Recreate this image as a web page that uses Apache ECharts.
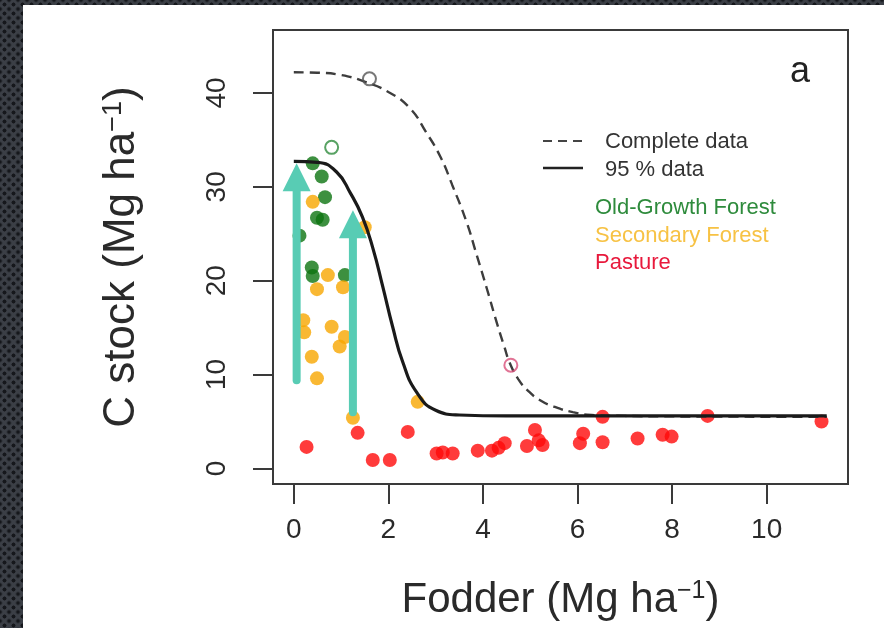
<!DOCTYPE html>
<html>
<head>
<meta charset="utf-8">
<script src="https://cdn.jsdelivr.net/npm/echarts@6/dist/echarts.min.js"></script>
<style>
  html, body { margin: 0; padding: 0; width: 884px; height: 628px; overflow: hidden; }
  body {
    background-color: #3b3f46;
    background-image:
      radial-gradient(circle, #15171b 1.7px, transparent 2.3px),
      radial-gradient(circle, #15171b 1.7px, transparent 2.3px);
    background-size: 9px 9px, 9px 9px;
    background-position: 0 0, 4.5px 4.5px;
  }
  #panel { position: absolute; left: 23px; top: 5px; width: 861px; height: 623px; background: #fff; }
  #chart { position: absolute; left: 0; top: 0; width: 884px; height: 628px; }
</style>
</head>
<body>
<div id="panel"></div>
<div id="chart"></div>
<script>
// ---- data ----
const xTicks = [0, 2, 4, 6, 8, 10];
const yTicks = [0, 10, 20, 30, 40];

const oldGrowth = [[0.40,32.5],[0.59,31.1],[0.66,28.9],[0.49,26.7],[0.61,26.5],[0.12,24.8],[0.38,21.4],[0.40,20.5],[1.08,20.6]];
const secondary = [[0.40,28.4],[1.50,25.7],[0.72,20.6],[0.49,19.1],[1.04,19.3],[0.20,15.8],[0.22,14.5],[0.80,15.1],[1.08,14.0],[0.97,13.0],[0.38,11.9],[0.49,9.6],[1.25,5.4],[2.62,7.1]];
const pasture = [[0.27,2.3],[1.35,3.8],[1.67,0.9],[2.03,0.9],[2.41,3.9],[3.02,1.6],[3.15,1.7],[3.36,1.6],[3.89,1.9],[4.19,1.9],[4.33,2.2],[4.46,2.7],[4.93,2.4],[5.10,4.1],[5.26,2.5],[5.18,3.0],[6.05,2.7],[6.12,3.7],[6.53,5.5],[6.53,2.8],[7.27,3.2],[7.80,3.6],[7.99,3.4],[8.75,5.6],[11.16,5.0]];
const outlierOld = [[0.80,34.2]];
const outlierSec = [[1.60,41.5]];
const outlierPas = [[4.59,11.0]];

const completeFit = [[0,42.2],[0.5,42.15],[1.0,41.9],[1.5,41.2],[2.0,40.1],[2.45,38.4],[2.8,35.8],[3.1,33.2],[3.35,30.2],[3.65,26.3],[3.87,22.7],[4.08,19.2],[4.3,15.4],[4.45,13.0],[4.57,11.2],[4.75,9.5],[4.95,8.3],[5.2,7.3],[5.5,6.6],[5.9,6.0],[6.3,5.7],[7.0,5.6],[8.0,5.55],[11.27,5.5]];
const fit95 = [[0,32.7],[0.5,32.6],[0.9,31.6],[1.2,29.3],[1.45,26.8],[1.67,23.5],[1.88,19.4],[2.09,15.1],[2.3,11.4],[2.6,8.1],[3.0,6.2],[3.5,5.7],[4.5,5.6],[11.27,5.6]];

// annotation arrows: [x, yStart, yTip]
const arrows = [[0.06, 9.4, 32.5], [1.25, 6.0, 27.5]];

const legendLines = ['Complete data', '95 % data'];
const legendGroups = ['Old-Growth Forest', 'Secondary Forest', 'Pasture'];

// ---- chart ----
const FONT = '"Liberation Sans", Arial, sans-serif';
const chart = echarts.init(document.getElementById('chart'), null, { renderer: 'canvas' });

const groupColors = ['#0c7410', '#f7a600', '#ff0a0a'];
const legendTextColors = ['#2e8b3c', '#f7c244', '#e8193c'];
const teal = '#58ccb4';

const option = {
  animation: false,
  backgroundColor: 'transparent',
  grid: { left: 273, top: 30, width: 575, height: 454, show: true, borderColor: '#3a3a3a', borderWidth: 2, backgroundColor: 'transparent' },
  xAxis: {
    type: 'value', min: -0.44, max: 11.72,
    splitLine: { show: false },
    axisLine: { show: false, onZero: false },
    axisTick: { show: true, length: 20, customValues: xTicks, lineStyle: { color: '#3a3a3a', width: 2 } },
    axisLabel: { customValues: xTicks, margin: 32, fontSize: 28, color: '#2a2a2a', fontFamily: FONT },
    name: 'Fodder (Mg ha{sup|−1})',
    nameLocation: 'middle', nameGap: 95,
    nameTextStyle: { fontSize: 42, color: '#2a2a2a', fontFamily: FONT,
      rich: { sup: { fontSize: 25, verticalAlign: 'top', color: '#2a2a2a', fontFamily: FONT } } }
  },
  yAxis: {
    type: 'value', min: -1.65, max: 46.7,
    splitLine: { show: false },
    axisLine: { show: false, onZero: false },
    axisTick: { show: true, length: 20, customValues: yTicks, lineStyle: { color: '#3a3a3a', width: 2 } },
    axisLabel: { customValues: yTicks, rotate: 90, margin: 42, fontSize: 28, color: '#2a2a2a', fontFamily: FONT },
    name: 'C stock (Mg ha{sup|−1})',
    nameLocation: 'middle', nameRotate: 90, nameGap: 129,
    nameTextStyle: { fontSize: 44, color: '#2a2a2a', fontFamily: FONT,
      rich: { sup: { fontSize: 27, verticalAlign: 'top', color: '#2a2a2a', fontFamily: FONT } } }
  },
  series: [
    { type: 'scatter', name: legendGroups[0], data: oldGrowth, symbolSize: 14, itemStyle: { color: groupColors[0] }, z: 2 },
    { type: 'scatter', name: legendGroups[1], data: secondary, symbolSize: 14, itemStyle: { color: groupColors[1] }, z: 2 },
    { type: 'scatter', name: legendGroups[2], data: pasture, symbolSize: 14, itemStyle: { color: groupColors[2] }, z: 2 },
    { type: 'scatter', data: outlierOld, symbol: 'circle', symbolSize: 13, itemStyle: { color: '#fff', borderColor: '#2e8b3c', borderWidth: 2 }, z: 2 },
    { type: 'scatter', data: outlierSec, symbol: 'circle', symbolSize: 13, itemStyle: { color: 'rgba(255,255,255,0)', borderColor: '#555', borderWidth: 2 }, z: 4 },
    { type: 'scatter', data: outlierPas, symbol: 'circle', symbolSize: 13, itemStyle: { color: 'rgba(255,255,255,0)', borderColor: '#d9507a', borderWidth: 2 }, z: 4 },
    { type: 'line', name: legendLines[0], data: completeFit, smooth: 0.5, showSymbol: false, symbol: 'none',
      lineStyle: { color: '#3d3d3d', width: 2.4, type: [10, 6] }, z: 3 },
    { type: 'line', name: legendLines[1], data: fit95, smooth: 0.5, showSymbol: false, symbol: 'none',
      lineStyle: { color: '#1a1a1a', width: 3.2 }, z: 3 },
    { type: 'custom', data: arrows, encode: { x: 0, y: [1, 2] }, z: 10,
      renderItem: function (params, api) {
        const x = api.value(0), y0 = api.value(1), y1 = api.value(2);
        const p0 = api.coord([x, y0]), p1 = api.coord([x, y1]);
        const headH = 28, headW = 28;
        return { type: 'group', children: [
          { type: 'line', shape: { x1: p0[0], y1: p0[1], x2: p1[0], y2: p1[1] + headH - 2 }, style: { stroke: teal, lineWidth: 8, lineCap: 'round' } },
          { type: 'polygon', shape: { points: [[p1[0], p1[1]], [p1[0] - headW / 2, p1[1] + headH], [p1[0] + headW / 2, p1[1] + headH]] }, style: { fill: teal } }
        ] };
      }
    }
  ],
  graphic: [
    { type: 'text', style: { x: 800, y: 72, text: 'a', fontSize: 36, fontFamily: FONT, fill: '#222', align: 'center', verticalAlign: 'middle' } },
    { type: 'line', shape: { x1: 543, y1: 141, x2: 583, y2: 141 }, style: { stroke: '#444', lineWidth: 2, lineDash: [9, 6] } },
    { type: 'line', shape: { x1: 543, y1: 168, x2: 583, y2: 168 }, style: { stroke: '#222', lineWidth: 2.5 } },
    { type: 'text', style: { x: 605, y: 142, text: legendLines[0], fontSize: 22, fontFamily: FONT, fill: '#333', align: 'left', verticalAlign: 'middle' } },
    { type: 'text', style: { x: 605, y: 170, text: legendLines[1], fontSize: 22, fontFamily: FONT, fill: '#333', align: 'left', verticalAlign: 'middle' } },
    { type: 'text', style: { x: 595, y: 208, text: legendGroups[0], fontSize: 22, fontFamily: FONT, fill: legendTextColors[0], align: 'left', verticalAlign: 'middle' } },
    { type: 'text', style: { x: 595, y: 236, text: legendGroups[1], fontSize: 22, fontFamily: FONT, fill: legendTextColors[1], align: 'left', verticalAlign: 'middle' } },
    { type: 'text', style: { x: 595, y: 263, text: legendGroups[2], fontSize: 22, fontFamily: FONT, fill: legendTextColors[2], align: 'left', verticalAlign: 'middle' } }
  ]
};
chart.setOption(option);
</script>
</body>
</html>
